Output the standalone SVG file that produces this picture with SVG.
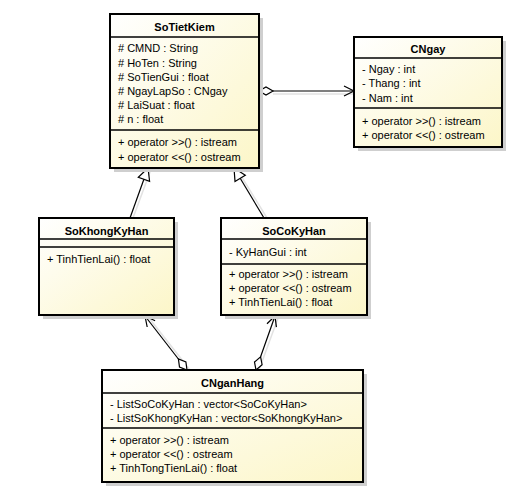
<svg xmlns="http://www.w3.org/2000/svg" width="525" height="500" viewBox="0 0 525 500">
<defs>
<linearGradient id="g" x1="0" y1="0" x2="1" y2="1">
<stop offset="0" stop-color="#ffffff"/>
<stop offset="1" stop-color="#fcf6c8"/>
</linearGradient>
<style>
.box{fill:url(#g);stroke:#000;stroke-width:2}
.sh{fill:#cfcfcf}
.sep{stroke:#000;stroke-width:1.5}
text{font-family:"Liberation Sans",Arial,sans-serif;font-size:11px;fill:#000}
.t{font-weight:bold;text-anchor:middle}
.ln{stroke:#000;stroke-width:1.2;fill:none}
.lns{stroke:#e2e2e2;stroke-width:1.5;fill:none}
.hol{fill:#fff;stroke:#000;stroke-width:1.2}
</style>
</defs>
<rect width="525" height="500" fill="#fff"/>
<g id="connectors">
<g class="lns">
<line x1="273" y1="94" x2="354" y2="94"/>
<line x1="133" y1="218" x2="150" y2="172"/>
<line x1="267" y1="218" x2="238" y2="171"/>
<line x1="190" y1="370" x2="149" y2="318"/>
<line x1="259" y1="370" x2="278" y2="318"/>
</g>
<line class="ln" x1="273" y1="91" x2="354" y2="91"/>
<polygon class="hol" points="259,91 266,87 273,91 266,95"/>
<polyline class="ln" points="344,86 354,91 344,96"/>
<line class="ln" x1="130" y1="218" x2="143.9" y2="179.3"/>
<polygon class="hol" points="148,168 149.6,181.3 138.3,177.3"/>
<line class="ln" x1="264" y1="218" x2="240.2" y2="178.3"/>
<polygon class="hol" points="234,168 245.3,175.2 235,181.4"/>
<line class="ln" x1="178.4" y1="359" x2="145" y2="316"/>
<polygon class="hol" points="187,370 185.9,362 178.4,359 179.5,367"/>
<polyline class="ln" points="155.1,320.8 145,316 147.2,327"/>
<line class="ln" x1="260.6" y1="356.8" x2="275" y2="316"/>
<polygon class="hol" points="256,370 262.1,364.7 260.6,356.8 254.5,362.1"/>
<polyline class="ln" points="276.4,327.1 275,316 267,323.8"/>
</g>
<g id="SoTietKiem">
<rect class="sh" x="114" y="18" width="149" height="154"/>
<rect class="box" x="110" y="14" width="149" height="154"/>
<line class="sep" x1="110" y1="37" x2="259" y2="37"/>
<line class="sep" x1="110" y1="130" x2="259" y2="130"/>
<text class="t" x="184.5" y="31">SoTietKiem</text>
<text x="118" y="52"># CMND : String</text>
<text x="118" y="67"># HoTen : String</text>
<text x="118" y="81"># SoTienGui : float</text>
<text x="118" y="95"># NgayLapSo : CNgay</text>
<text x="118" y="109"># LaiSuat : float</text>
<text x="118" y="123"># n : float</text>
<text x="118" y="146">+ operator &gt;&gt;() : istream</text>
<text x="118" y="161">+ operator &lt;&lt;() : ostream</text>
</g>
<g id="CNgay">
<rect class="sh" x="358" y="41" width="148" height="110"/>
<rect class="box" x="354" y="37" width="148" height="110"/>
<line class="sep" x1="354" y1="58" x2="502" y2="58"/>
<line class="sep" x1="354" y1="108" x2="502" y2="108"/>
<text class="t" x="428" y="53">CNgay</text>
<text x="362" y="73">- Ngay : int</text>
<text x="362" y="87">- Thang : int</text>
<text x="362" y="102">- Nam : int</text>
<text x="362" y="125">+ operator &gt;&gt;() : istream</text>
<text x="362" y="139">+ operator &lt;&lt;() : ostream</text>
</g>
<g id="SoKhongKyHan">
<rect class="sh" x="43" y="222" width="135" height="97"/>
<rect class="box" x="39" y="218" width="135" height="97"/>
<line class="sep" x1="39" y1="239" x2="174" y2="239"/>
<line class="sep" x1="39" y1="247" x2="174" y2="247"/>
<text class="t" x="106.5" y="235">SoKhongKyHan</text>
<text x="47" y="263">+ TinhTienLai() : float</text>
</g>
<g id="SoCoKyHan">
<rect class="sh" x="225" y="222" width="146" height="97"/>
<rect class="box" x="221" y="218" width="146" height="97"/>
<line class="sep" x1="221" y1="239" x2="367" y2="239"/>
<line class="sep" x1="221" y1="264" x2="367" y2="264"/>
<text class="t" x="294" y="235">SoCoKyHan</text>
<text x="229" y="256">- KyHanGui : int</text>
<text x="229" y="278">+ operator &gt;&gt;() : istream</text>
<text x="229" y="292">+ operator &lt;&lt;() : ostream</text>
<text x="229" y="306">+ TinhTienLai() : float</text>
</g>
<g id="CNganHang">
<rect class="sh" x="106" y="374" width="261" height="112"/>
<rect class="box" x="102" y="370" width="261" height="112"/>
<line class="sep" x1="102" y1="393" x2="363" y2="393"/>
<line class="sep" x1="102" y1="428" x2="363" y2="428"/>
<text class="t" x="232.5" y="387">CNganHang</text>
<text x="110" y="408">- ListSoCoKyHan : vector&lt;SoCoKyHan&gt;</text>
<text x="110" y="422">- ListSoKhongKyHan : vector&lt;SoKhongKyHan&gt;</text>
<text x="110" y="444">+ operator &gt;&gt;() : istream</text>
<text x="110" y="458">+ operator &lt;&lt;() : ostream</text>
<text x="110" y="472">+ TinhTongTienLai() : float</text>
</g>
</svg>
